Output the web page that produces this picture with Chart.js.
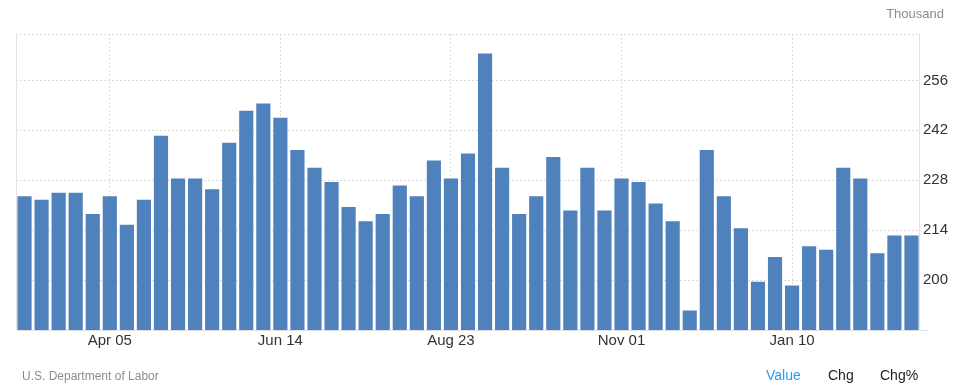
<!DOCTYPE html>
<html>
<head>
<meta charset="utf-8">
<script src="https://cdn.jsdelivr.net/npm/chart.js@4.4.1/dist/chart.umd.min.js"></script>
<style>
  html, body { margin: 0; padding: 0; background: #fff; }
  #wrap { position: relative; width: 955px; height: 392px; font-family: Arial, "Liberation Sans", sans-serif; }
  #unit { position: absolute; right: 11px; top: 6px; font-size: 13px; color: #8c8c8c; }
  #source { position: absolute; left: 22px; top: 369px; font-size: 12px; color: #8c8c8c; }
  .tab { position: absolute; top: 367px; font-size: 14px; color: #222; }
</style>
</head>
<body>
<div id="wrap">
  <canvas id="grafico_barras" width="955" height="392"></canvas>
  <div id="unit">Thousand</div>
  <div id="source">U.S. Department of Labor</div>
  <span class="tab" style="left:766px;color:#2b9af0">Value</span>
  <span class="tab" style="left:828px">Chg</span>
  <span class="tab" style="left:880px">Chg%</span>
</div>
<script>
let ctx = document.getElementById('grafico_barras')

// semanas (sábado)
const labels = ['Mar 01','Mar 08','Mar 15','Mar 22','Mar 29','Apr 05','Apr 12','Apr 19','Apr 26','May 03',
  'May 10','May 17','May 24','May 31','Jun 07','Jun 14','Jun 21','Jun 28','Jul 05','Jul 12',
  'Jul 19','Jul 26','Aug 02','Aug 09','Aug 16','Aug 23','Aug 30','Sep 06','Sep 13','Sep 20',
  'Sep 27','Oct 04','Oct 11','Oct 18','Oct 25','Nov 01','Nov 08','Nov 15','Nov 22','Nov 29',
  'Dec 06','Dec 13','Dec 20','Dec 27','Jan 03','Jan 10','Jan 17','Jan 24','Jan 31','Feb 07',
  'Feb 14','Feb 21','Feb 28']

// pedidos iniciais (mil)
const claims = [223.5, 222.5, 224.5, 224.5, 218.5, 223.5, 215.5, 222.5, 240.5, 228.5,
  228.5, 225.5, 238.5, 247.5, 249.5, 245.5, 236.5, 231.5, 227.5, 220.5,
  216.5, 218.5, 226.5, 223.5, 233.5, 228.5, 235.5, 263.5, 231.5, 218.5,
  223.5, 234.5, 219.5, 231.5, 219.5, 228.5, 227.5, 221.5, 216.5, 191.5,
  236.5, 223.5, 214.5, 199.5, 206.5, 198.5, 209.5, 208.5, 231.5, 228.5,
  207.5, 212.5, 212.5]

const yTicks = [186, 200, 214, 228, 242, 256, 269]
const shownLabels = ['Apr 05', 'Jun 14', 'Aug 23', 'Nov 01', 'Jan 10']

Chart.defaults.font.family = 'Arial, "Liberation Sans", sans-serif'
Chart.defaults.color = '#333'

// moldura sólida (esquerda, baixo, direita)
const moldura = {
  id: 'moldura',
  afterDraw(chart) {
    const { ctx, chartArea: a } = chart
    ctx.save()
    ctx.strokeStyle = '#e2e2e2'
    ctx.lineWidth = 1
    ctx.setLineDash([])
    ctx.beginPath()
    ctx.moveTo(a.left + 0.5, a.top)
    ctx.lineTo(a.left + 0.5, a.bottom + 0.5)
    ctx.lineTo(a.right + 8, a.bottom + 0.5)
    ctx.moveTo(a.right - 0.5, a.top)
    ctx.lineTo(a.right - 0.5, a.bottom)
    ctx.stroke()
    ctx.restore()
  }
}

const chart = new Chart(ctx, {
  type: 'bar',
  data: {
    labels,
    datasets: [{
      data: claims,
      backgroundColor: '#4f81bd',
      borderWidth: 0,
      barPercentage: 0.83,
      categoryPercentage: 1
    }]
  },
  options: {
    responsive: false,
    animation: false,
    layout: { padding: { top: 34, left: 16, right: 0, bottom: 34 } },
    plugins: { legend: { display: false }, tooltip: { enabled: false } },
    scales: {
      x: {
        offset: true,
        grid: {
          offset: false,
          drawTicks: false,
          color: c => shownLabels.includes(labels[c.index]) ? '#dcdcdc' : 'rgba(0,0,0,0)'
        },
        border: { display: false, dash: [2, 2] },
        ticks: {
          autoSkip: false,
          maxRotation: 0,
          padding: 2,
          font: { size: 15 },
          callback: function (v) {
            const l = this.getLabelForValue(v)
            return shownLabels.includes(l) ? l : ''
          }
        },
        afterFit: s => { s.height = 28 }
      },
      y: {
        position: 'right',
        min: 186,
        max: 269,
        afterBuildTicks: s => { s.ticks = yTicks.map(v => ({ value: v })) },
        grid: {
          drawTicks: false,
          color: c => c.index === 0 ? 'rgba(0,0,0,0)' : '#dcdcdc'
        },
        border: { display: false, dash: [2, 2] },
        ticks: {
          padding: 3,
          font: { size: 15 },
          callback: v => (v === 186 || v === 269) ? '' : v
        },
        afterFit: s => { s.width = 35 }
      }
    }
  },
  plugins: [moldura]
});
</script>
</body>
</html>
